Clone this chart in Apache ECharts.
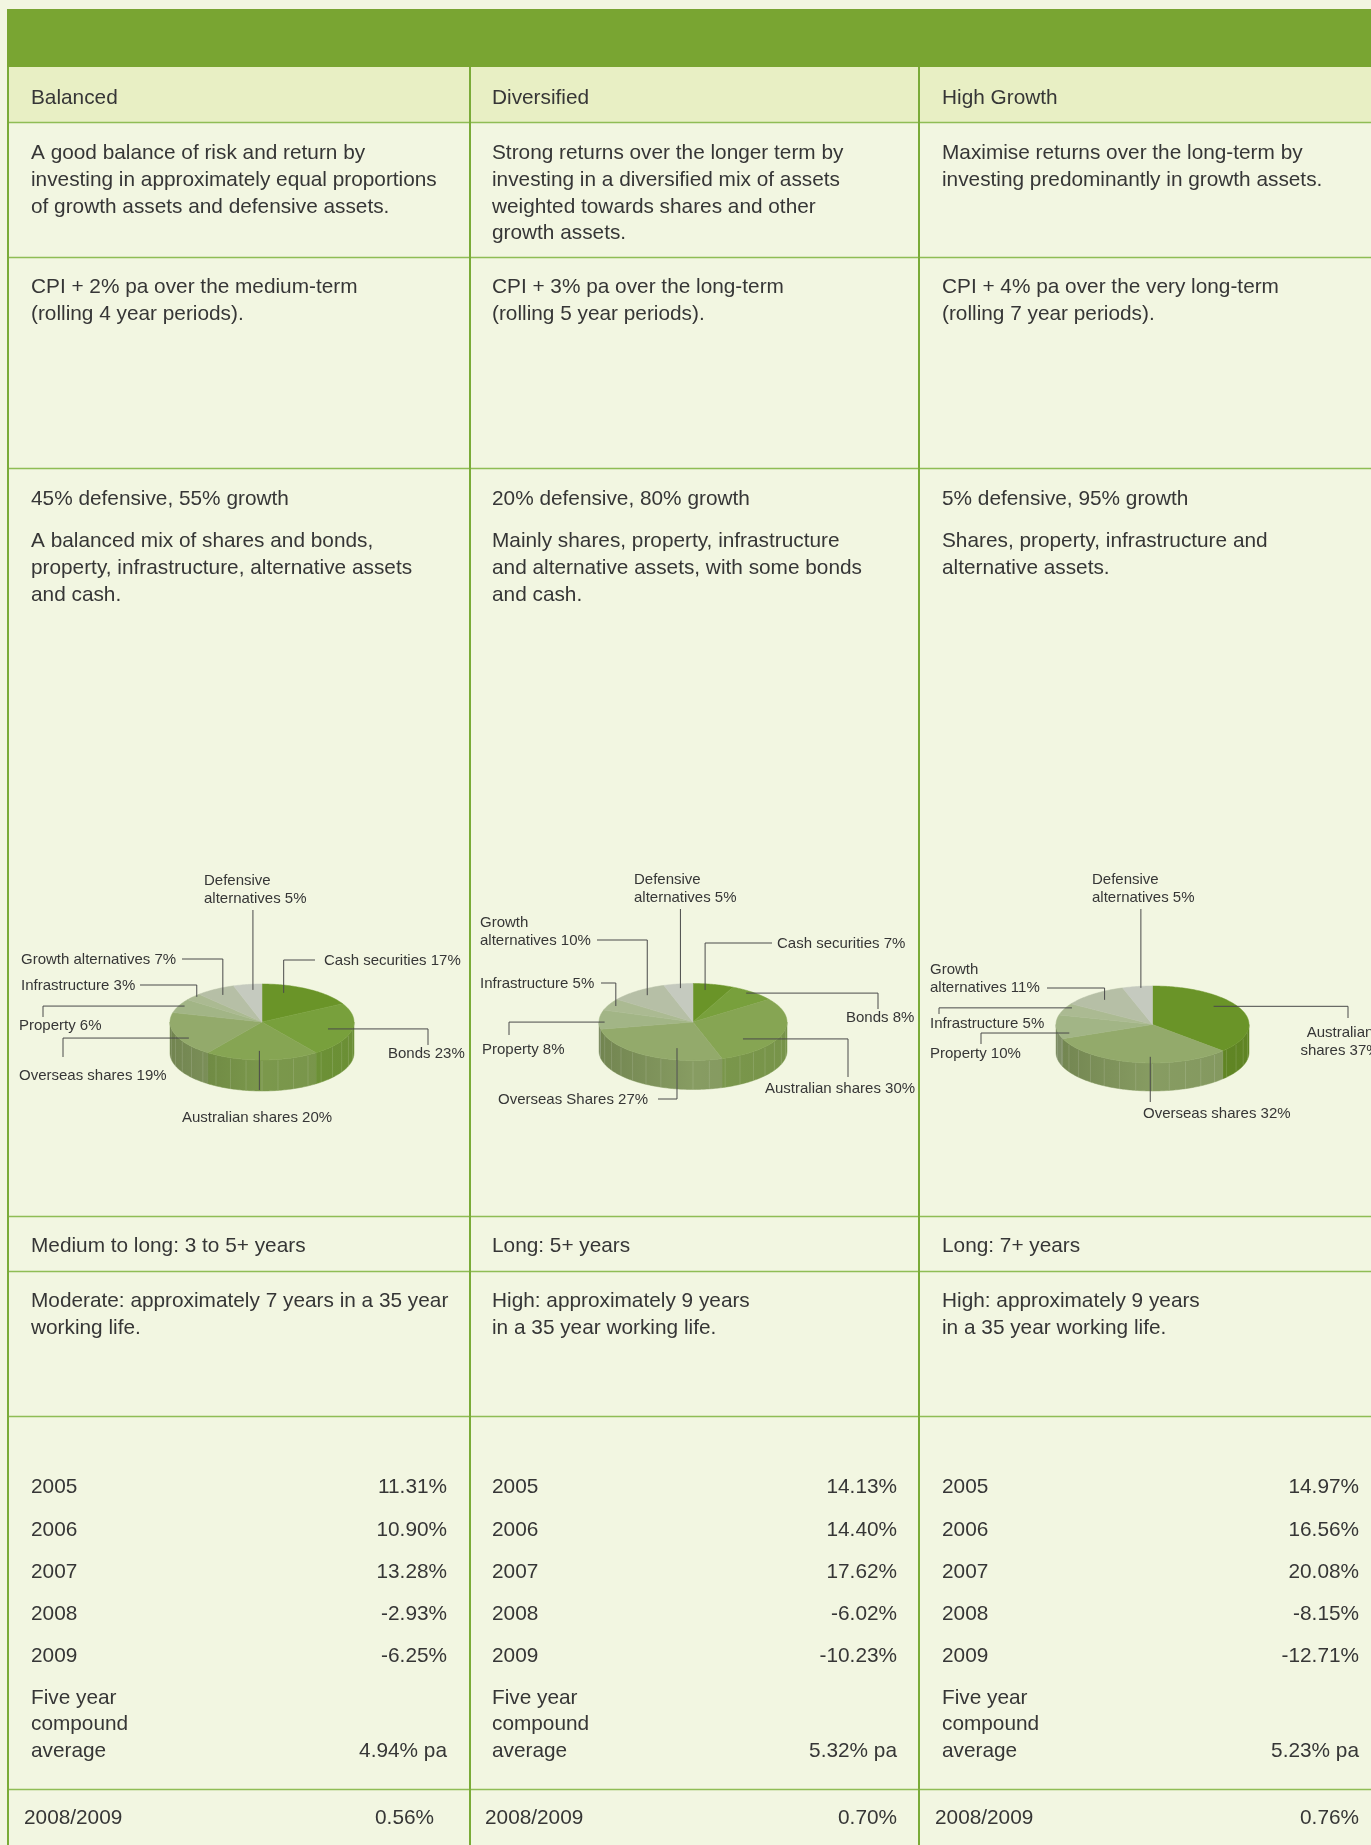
<!DOCTYPE html>
<html>
<head>
<meta charset="utf-8">
<script src="https://cdn.jsdelivr.net/npm/echarts@6/dist/echarts.min.js"></script>
<style>
  html, body { margin: 0; padding: 0; background: #f2f6e1; }
  #main { width: 1371px; height: 1845px; }
</style>
</head>
<body>
<div id="main"></div>
<script>
// ---- table text ----
const titles = ['Balanced', 'Diversified', 'High Growth'];
const objectives = [
  ['A good balance of risk and return by', 'investing in approximately equal proportions', 'of growth assets and defensive assets.'],
  ['Strong returns over the longer term by', 'investing in a diversified mix of assets', 'weighted towards shares and other', 'growth assets.'],
  ['Maximise returns over the long-term by', 'investing predominantly in growth assets.']
];
const targets = [
  ['CPI + 2% pa over the medium-term', '(rolling 4 year periods).'],
  ['CPI + 3% pa over the long-term', '(rolling 5 year periods).'],
  ['CPI + 4% pa over the very long-term', '(rolling 7 year periods).']
];
const splits = ['45% defensive, 55% growth', '20% defensive, 80% growth', '5% defensive, 95% growth'];
const mixNotes = [
  ['A balanced mix of shares and bonds,', 'property, infrastructure, alternative assets', 'and cash.'],
  ['Mainly shares, property, infrastructure', 'and alternative assets, with some bonds', 'and cash.'],
  ['Shares, property, infrastructure and', 'alternative assets.']
];
const timeframes = ['Medium to long: 3 to 5+ years', 'Long: 5+ years', 'Long: 7+ years'];
const riskNotes = [
  ['Moderate: approximately 7 years in a 35 year', 'working life.'],
  ['High: approximately 9 years', 'in a 35 year working life.'],
  ['High: approximately 9 years', 'in a 35 year working life.']
];

// ---- returns ----
const years = ['2005', '2006', '2007', '2008', '2009'];
const balancedReturns = [11.31, 10.90, 13.28, -2.93, -6.25];
const diversifiedReturns = [14.13, 14.40, 17.62, -6.02, -10.23];
const highGrowthReturns = [14.97, 16.56, 20.08, -8.15, -12.71];
const fiveYearAverage = [4.94, 5.32, 5.23];
const year0809 = [0.56, 0.70, 0.76];

// ---- asset mixes ----
const balancedAssets = ['Cash securities', 'Bonds', 'Australian shares', 'Overseas shares', 'Property', 'Infrastructure', 'Growth alternatives', 'Defensive alternatives'];
const balancedMix = [17, 23, 20, 19, 6, 3, 7, 5];
const diversifiedAssets = ['Cash securities', 'Bonds', 'Australian shares', 'Overseas Shares', 'Property', 'Infrastructure', 'Growth alternatives', 'Defensive alternatives'];
const diversifiedMix = [7, 8, 30, 27, 8, 5, 10, 5];
const highGrowthAssets = ['Australian shares', 'Overseas shares', 'Property', 'Infrastructure', 'Growth alternatives', 'Defensive alternatives'];
const highGrowthMix = [37, 32, 10, 5, 11, 5];

// ---- layout / style ----
const FONT = '"Liberation Sans", Arial, sans-serif';
const TEXT = '#363636';
const BODY_SIZE = 20.8;
const colX = [8, 470, 919];
const textX = [31, 492, 942];
const valueX = [447, 897, 1359];
const rowLines = [122, 257, 468, 1216, 1271, 1416, 1789];

const palette8 = ['#6a9428', '#78a03c', '#86a553', '#93aa6b', '#a2b586', '#abba92', '#b6bfa6', '#c5cabf'];
const palette6 = ['#6a9428', '#93aa6b', '#a2b586', '#abba92', '#b6bfa6', '#c5cabf'];

const pieGeom = [
  { cx: 262, cy: 1022, rx: 92, ry: 38, depth: 31 },
  { cx: 693, cy: 1022, rx: 94, ry: 38.5, depth: 29 },
  { cx: 1152.5, cy: 1024.5, rx: 96.5, ry: 38.5, depth: 28 }
];
// label placement: text pos, leader start, leader mode, anchor inside slice (radius frac r, angle frac t)
const balancedLabels = [
  { x: 324, y: 961, mode: 'hv', s: [315, 960], r: 0.80, t: 0.28 },
  { x: 388, y: 1054, mode: 'vh', s: [428, 1045], r: 0.74, t: 0.52 },
  { x: 182, y: 1118, mode: 'v', s: [0, 1090], r: 0.76, t: 0.53 },
  { x: 19, y: 1076, mode: 'vh', s: [63, 1057], r: 0.90, t: 0.38 },
  { x: 19, y: 1026, mode: 'vh', s: [43, 1017], r: 0.94, t: 0.56 },
  { x: 21, y: 986, mode: 'hv', s: [140, 985], r: 0.97, t: 0.65 },
  { x: 21, y: 960, mode: 'hv', s: [182, 959], r: 0.83, t: 0.49 },
  { x: 204, y: 881, mode: 'v', s: [0, 910], r: 0.85, t: 0.63, wrap: true }
];
const diversifiedLabels = [
  { x: 777, y: 944, mode: 'hv', s: [772, 943], r: 0.84, t: 0.35 },
  { x: 846, y: 1018, mode: 'vh', s: [878, 1009], r: 0.94, t: 0.41 },
  { x: 765, y: 1089, mode: 'vh', s: [848, 1077], r: 0.69, t: 0.70 },
  { x: 498, y: 1100, mode: 'hv', s: [658, 1099], r: 0.70, t: 0.33 },
  { x: 482, y: 1050, mode: 'vh', s: [509, 1035], r: 0.94, t: 0.37 },
  { x: 480, y: 984, mode: 'hv', s: [601, 983], r: 0.92, t: 0.49 },
  { x: 480, y: 923, mode: 'hv', s: [597, 940], r: 0.85, t: 0.53, wrap: true },
  { x: 634, y: 880, mode: 'v', s: [0, 909], r: 0.89, t: 0.52, wrap: true }
];
const highGrowthLabels = [
  { x: 1340, y: 1033, mode: 'vh', s: [1348, 1018], r: 0.79, t: 0.40, wrap: true, align: 'center' },
  { x: 1143, y: 1114, mode: 'v', s: [0, 1102], r: 0.84, t: 0.42 },
  { x: 930, y: 1054, mode: 'vh', s: [981, 1044], r: 0.89, t: 0.20 },
  { x: 930, y: 1024, mode: 'vh', s: [939, 1014], r: 0.94, t: 0.72 },
  { x: 930, y: 970, mode: 'hv', s: [1047, 988], r: 0.81, t: 0.50, wrap: true },
  { x: 1092, y: 880, mode: 'v', s: [0, 909], r: 0.96, t: 0.60, wrap: true }
];

function darken(hex, k) {
  const n = parseInt(hex.slice(1), 16);
  const r = Math.round(((n >> 16) & 255) * k), g = Math.round(((n >> 8) & 255) * k), b = Math.round((n & 255) * k);
  return 'rgb(' + r + ',' + g + ',' + b + ')';
}

const TAU = Math.PI * 2;

function pieSeries(names, values, palette, g, labels) {
  const total = values.reduce((a, b) => a + b, 0);
  const starts = [];
  let acc = 0;
  values.forEach(v => { starts.push(acc); acc += v; });
  const pt = (th, f, dy) => [g.cx + g.rx * f * Math.sin(th), g.cy - g.ry * f * Math.cos(th) + (dy || 0)];
  const arc = (a, b, dy) => {
    const n = Math.max(2, Math.ceil((b - a) / (Math.PI / 180)));
    const out = [];
    for (let k = 0; k <= n; k++) out.push(pt(a + (b - a) * k / n, 1, dy));
    return out;
  };
  return {
    type: 'custom',
    coordinateSystem: 'none',
    silent: true,
    data: values.map((v, i) => ({ name: names[i], value: [v] })),
    renderItem: function (params, api) {
      const i = params.dataIndex;
      const v = api.value(0);
      const a0 = starts[i] / total * TAU;
      const a1 = (starts[i] + v) / total * TAU;
      const color = palette[i];
      const children = [];

      // side wall (front half only)
      const w0 = Math.max(a0, Math.PI / 2), w1 = Math.min(a1, Math.PI * 1.5);
      if (w1 > w0) {
        const top = arc(w0, w1, 0);
        const bottom = arc(w0, w1, g.depth).reverse();
        children.push({
          type: 'polygon', z2: 1,
          shape: { points: top.concat(bottom) },
          style: { fill: darken(color, 0.92), stroke: darken(color, 0.92), lineWidth: 0.5 }
        });
      }
      if (i === 0) {
        const top = arc(Math.PI / 2, Math.PI * 1.5, 0);
        const bottom = arc(Math.PI / 2, Math.PI * 1.5, g.depth).reverse();
        children.push({
          type: 'polygon', z2: 2,
          shape: { points: top.concat(bottom) },
          style: {
            fill: new echarts.graphic.LinearGradient(g.cx - g.rx, 0, g.cx + g.rx, 0, [
              { offset: 0, color: 'rgba(30,40,10,0.20)' },
              { offset: 0.5, color: 'rgba(30,40,10,0.0)' },
              { offset: 1, color: 'rgba(30,40,10,0.04)' }
            ], true)
          }
        });
        // faint facet stripes on the wall
        for (let d = 100; d < 266; d += 10) {
          const th = d / 180 * Math.PI;
          const p = pt(th, 1, 0);
          children.push({
            type: 'line', z2: 3,
            shape: { x1: p[0], y1: p[1] + 1, x2: p[0], y2: p[1] + g.depth },
            style: { stroke: 'rgba(255,255,255,0.13)', lineWidth: 1 }
          });
        }
      }
      // top face
      children.push({
        type: 'polygon', z2: 5,
        shape: { points: [[g.cx, g.cy]].concat(arc(a0, a1, 0)) },
        style: { fill: color, stroke: color, lineWidth: 0.5 }
      });

      // leader + label
      const L = labels[i];
      const th = a0 + (a1 - a0) * L.t;
      const an = pt(th, L.r, 0);
      let pts;
      if (L.mode === 'v') pts = [[an[0], L.s[1]], an];
      else if (L.mode === 'hv') pts = [L.s, [an[0], L.s[1]], an];
      else pts = [L.s, [L.s[0], an[1]], an];
      children.push({
        type: 'polyline', z2: 10,
        shape: { points: pts },
        style: { stroke: '#4a4a4a', lineWidth: 1, fill: null }
      });
      const full = names[i] + ' ' + v + '%';
      let lines = [full];
      if (L.wrap) {
        const sp = full.indexOf(' ');
        lines = [full.slice(0, sp), full.slice(sp + 1)];
      }
      lines.forEach((ln, k) => {
        children.push({
          type: 'text', z2: 10,
          x: L.x, y: L.y + k * 18,
          style: {
            text: ln, fill: '#363636', font: '15px ' + FONT,
            textAlign: L.align || 'left', textVerticalAlign: 'middle'
          }
        });
      });
      return { type: 'group', children: children };
    }
  };
}

// ---- table graphics ----
const elements = [];
function addText(x, y, str, align) {
  elements.push({
    type: 'text', x: x, y: y, z: 5,
    style: { text: str, fill: TEXT, font: BODY_SIZE + 'px ' + FONT, textAlign: align || 'left', textVerticalAlign: 'middle' }
  });
}
function addLines(c, y0, arr, gap) {
  arr.forEach((s, k) => addText(textX[c], y0 + k * gap, s));
}

elements.push({ type: 'rect', z: 0, shape: { x: 0, y: 0, width: 1371, height: 1845 }, style: { fill: '#f2f6e1' } });
elements.push({ type: 'rect', z: 1, shape: { x: 7, y: 9, width: 1364, height: 58 }, style: { fill: '#79a532' } });
elements.push({ type: 'rect', z: 1, shape: { x: 8, y: 67, width: 1363, height: 55 }, style: { fill: '#e8efc4' } });
rowLines.forEach(y => {
  elements.push({ type: 'line', z: 2, shape: { x1: 8, y1: y + 0.5, x2: 1371, y2: y + 0.5 }, style: { stroke: '#8fbd55', lineWidth: 1.5 } });
});
colX.forEach(x => {
  elements.push({ type: 'line', z: 3, shape: { x1: x, y1: 67, x2: x, y2: 1845 }, style: { stroke: '#7aab38', lineWidth: 2 } });
});

for (let c = 0; c < 3; c++) {
  addText(textX[c], 98, titles[c]);
  addLines(c, 153.5, objectives[c], 26.7);
  addLines(c, 287.5, targets[c], 26.7);
  addText(textX[c], 499.5, splits[c]);
  addLines(c, 541.5, mixNotes[c], 27);
  addText(textX[c], 1246.5, timeframes[c]);
  addLines(c, 1301.5, riskNotes[c], 27);
}

const returnsByCol = [balancedReturns, diversifiedReturns, highGrowthReturns];
const yearY = [1487.5, 1530, 1572, 1614, 1656];
for (let c = 0; c < 3; c++) {
  years.forEach((yr, k) => {
    addText(textX[c], yearY[k], yr);
    addText(valueX[c], yearY[k], returnsByCol[c][k].toFixed(2) + '%', 'right');
  });
  addLines(c, 1698, ['Five year', 'compound', 'average'], 26.6);
  addText(valueX[c], 1751, fiveYearAverage[c].toFixed(2) + '% pa', 'right');
  addText(textX[c] - 7, 1818.5, '2008/2009');
  addText(c === 0 ? 434 : valueX[c], 1818.5, year0809[c].toFixed(2) + '%', 'right');
}

const chart = echarts.init(document.getElementById('main'), null, { renderer: 'canvas' });
chart.setOption({
  animation: false,
  backgroundColor: '#f2f6e1',
  graphic: { elements: elements },
  series: [
    pieSeries(balancedAssets, balancedMix, palette8, pieGeom[0], balancedLabels),
    pieSeries(diversifiedAssets, diversifiedMix, palette8, pieGeom[1], diversifiedLabels),
    pieSeries(highGrowthAssets, highGrowthMix, palette6, pieGeom[2], highGrowthLabels)
  ]
});
</script>
</body>
</html>
